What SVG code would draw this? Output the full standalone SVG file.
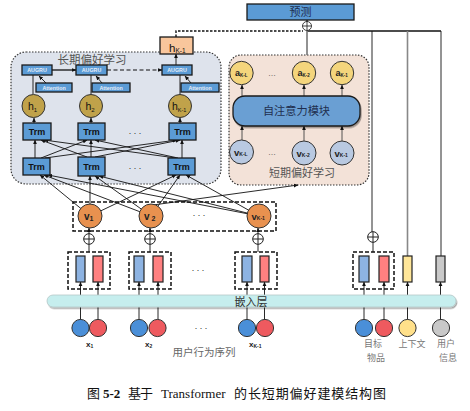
<svg xmlns="http://www.w3.org/2000/svg" width="470" height="411" viewBox="0 0 470 411">
<defs>
<marker id="ah" viewBox="0 0 6 6" refX="5.6" refY="3" markerWidth="4.5" markerHeight="4.5" markerUnits="userSpaceOnUse" orient="auto"><path d="M0,0.4 L6,3 L0,5.6 z" fill="#111"/></marker>
<filter id="sh" x="-10%" y="-20%" width="125%" height="160%"><feDropShadow dx="1" dy="1.5" stdDeviation="0.7" flood-color="#000" flood-opacity="0.35"/></filter>
<g id="op"><circle r="5.3" fill="#fff" stroke="#222" stroke-width="1"/><path d="M-5.3,0H5.3M0,-5.3V5.3" stroke="#222" stroke-width="1"/></g>
</defs>
<style>
.bx{fill:#5B9BD5;stroke:#1a1a1a;stroke-width:1.3}
.t{font-family:"Liberation Sans","Noto Sans CJK SC",sans-serif}
.cn{font-family:"Noto Sans CJK SC","Liberation Sans",sans-serif}
.trm{font-size:9px;font-weight:bold;fill:#111;text-anchor:middle}
.sm{font-size:5.3px;font-weight:bold;fill:#e8eef8;text-anchor:middle}
.ln{stroke:#111;stroke-width:0.9;fill:none}
.la{stroke:#111;stroke-width:0.9;fill:none;marker-end:url(#ah)}
.gold{fill:#C0A24A;stroke:#333;stroke-width:1}
.yel{fill:#F4D57C;stroke:#333;stroke-width:1}
.lv{fill:#B9C9E1;stroke:#333;stroke-width:1}
.org{fill:#E8914F;stroke:#333;stroke-width:1}
.dash{fill:none;stroke:#111;stroke-width:1.5;stroke-dasharray:4 2}
.bar{stroke:#222;stroke-width:1.2}
.dots{font-size:9px;fill:#333;text-anchor:middle;letter-spacing:2px}
.lbl{font-size:9px;fill:#777;text-anchor:middle}
.cap{font-size:13px;fill:#111}
</style>

<!-- panels -->
<g id="long-term-panel">
<rect x="11" y="52" width="210" height="132" rx="15" fill="#DEE3EC" stroke="#333" stroke-width="1.2" stroke-dasharray="1.5 1.5"/>
<text class="cn" x="92" y="64" font-size="11.5" fill="#555" text-anchor="middle">长期偏好学习</text>
</g>
<g id="short-term-panel">
<rect x="229" y="55" width="140" height="130" rx="12" fill="#F3E2D8" stroke="#333" stroke-width="1.2" stroke-dasharray="1.5 1.5"/>
<text class="cn" x="302" y="177" font-size="11" fill="#555" text-anchor="middle">短期偏好学习</text>
</g>

<!-- connectors -->
<g id="connectors">
<line class="la" x1="35" y1="158" x2="35" y2="140"/>
<line class="la" x1="41" y1="158" x2="87" y2="140"/>
<line class="la" x1="45" y1="158" x2="177" y2="140"/>
<line class="la" x1="87" y1="157" x2="41" y2="140"/>
<line class="la" x1="91" y1="157" x2="91" y2="140"/>
<line class="la" x1="95" y1="157" x2="180" y2="140"/>
<line class="la" x1="176" y1="158" x2="44" y2="140"/>
<line class="la" x1="178" y1="158" x2="95" y2="140"/>
<line class="la" x1="182" y1="158" x2="182" y2="140"/>
<line class="la" x1="90" y1="216" x2="40" y2="175"/>
<line class="la" x1="90" y1="216" x2="90" y2="176"/>
<line class="la" x1="90" y1="216" x2="176" y2="175"/>
<line class="la" x1="151" y1="216" x2="44" y2="175"/>
<line class="la" x1="151" y1="216" x2="95" y2="176"/>
<line class="la" x1="151" y1="216" x2="180" y2="175"/>
<line class="la" x1="259" y1="216" x2="48" y2="175"/>
<line class="la" x1="259" y1="216" x2="99" y2="176"/>
<line class="la" x1="259" y1="216" x2="186" y2="175"/>
<line class="la" x1="153" y1="205" x2="298" y2="185"/>
<line class="la" x1="34" y1="123" x2="34" y2="118"/>
<line class="la" x1="91" y1="123" x2="91" y2="118"/>
<line class="la" x1="180" y1="123" x2="180" y2="118"/>
<line class="ln" x1="33" y1="94" x2="33" y2="75"/>
<line class="ln" x1="91" y1="94" x2="91" y2="75"/>
<line class="ln" x1="180" y1="94" x2="180" y2="75"/>
<line class="la" x1="46" y1="83" x2="39" y2="76"/>
<line class="la" x1="102" y1="83" x2="96" y2="76"/>
<line class="la" x1="191" y1="83" x2="185" y2="76"/>
<line class="la" x1="52" y1="70" x2="76" y2="70" style="stroke-width:1.3"/>
<line class="la" x1="107" y1="70" x2="162" y2="70" style="stroke-dasharray:4 2.5;stroke-width:1.1"/>
<line class="la" x1="176" y1="65" x2="176" y2="54"/>
<path d="M176,37 V31 H303" fill="none" stroke="#111" stroke-width="1.4" stroke-dasharray="2.5 1.5"/>
<line x1="307" y1="31" x2="441" y2="31" stroke="#111" stroke-width="1.4"/>
<line class="la" x1="307" y1="21" x2="307" y2="20"/>
<line x1="307" y1="31" x2="307" y2="55" stroke="#777" stroke-width="1.6"/>
<line class="ln" x1="372" y1="31" x2="372" y2="232"/>
<line x1="407.5" y1="31" x2="407.5" y2="256" stroke="#888" stroke-width="1.6"/>
<line class="ln" x1="441" y1="31" x2="441" y2="256"/>
<line class="la" x1="242" y1="96" x2="242" y2="85" style="stroke:#444"/>
<line class="la" x1="304" y1="96" x2="304" y2="85" style="stroke:#444"/>
<line class="la" x1="342" y1="96" x2="342" y2="85" style="stroke:#444"/>
<line class="la" x1="242" y1="140" x2="242" y2="126" style="stroke:#444"/>
<line class="la" x1="304" y1="141" x2="304" y2="126" style="stroke:#444"/>
<line class="la" x1="342" y1="141" x2="342" y2="126" style="stroke:#444"/>
<line class="la" x1="89" y1="234" x2="89" y2="228"/>
<line class="la" x1="150" y1="234" x2="150" y2="228"/>
<line class="la" x1="258" y1="234" x2="258" y2="228"/>
<line class="ln" x1="89" y1="252" x2="89" y2="244"/>
<line class="ln" x1="150" y1="252" x2="150" y2="244"/>
<line class="ln" x1="258" y1="252" x2="258" y2="244"/>
<line class="ln" x1="373" y1="252" x2="373" y2="242"/>
<line class="la" x1="80.5" y1="320" x2="80.5" y2="282"/>
<line class="la" x1="98" y1="320" x2="98" y2="282"/>
<line class="la" x1="139" y1="320" x2="139" y2="282"/>
<line class="la" x1="158" y1="320" x2="158" y2="282"/>
<line class="la" x1="247" y1="320" x2="247" y2="282"/>
<line class="la" x1="264.5" y1="320" x2="264.5" y2="282"/>
<line class="la" x1="364" y1="320" x2="364" y2="282"/>
<line class="la" x1="384" y1="320" x2="384" y2="282"/>
<line class="la" x1="407.5" y1="320" x2="407.5" y2="282"/>
<line class="la" x1="440.5" y1="320" x2="440.5" y2="282"/>
</g>

<g id="predict">
<rect class="bx" x="247" y="4" width="107" height="16"/>
<text class="cn" x="300.5" y="16" font-size="11" fill="#1F2F4F" text-anchor="middle">预测</text>
</g>
<g id="oplus-predict"><use href="#op" transform="translate(307,26) scale(0.85)"/></g>

<g id="hK-out">
<rect x="160" y="37" width="33" height="17" fill="#F9C69C" stroke="#1a1a1a" stroke-width="1.3"/>
<text class="t" x="169" y="52" font-size="11.5" fill="#111">h<tspan font-size="6.5" dy="1">K-1</tspan></text>
</g>

<g id="augru1"><rect class="bx" x="22" y="65" width="30" height="10"/><text class="t sm" x="37" y="72">AUGRU</text></g>
<g id="augru2"><rect class="bx" x="76" y="65" width="31" height="10"/><text class="t sm" x="91.5" y="72">AUGRU</text></g>
<g id="augru3"><rect class="bx" x="162" y="65" width="30" height="10"/><text class="t sm" x="177" y="72">AUGRU</text></g>
<g id="att1"><rect class="bx" x="36" y="83" width="36" height="9"/><text class="t sm" x="54" y="89.8">Attention</text></g>
<g id="att2"><rect class="bx" x="92" y="83" width="38" height="9"/><text class="t sm" x="111" y="89.8">Attention</text></g>
<g id="att3"><rect class="bx" x="181" y="83" width="38" height="9"/><text class="t sm" x="200" y="89.8">Attention</text></g>
<g id="h1"><circle class="gold" cx="33.5" cy="106" r="11.5"/><text class="t" x="28" y="110" font-size="10.5" fill="#111">h<tspan font-size="6" dy="1.5">1</tspan></text></g>
<g id="h2"><circle class="gold" cx="91" cy="106" r="11.5"/><text class="t" x="85.5" y="110" font-size="10.5" fill="#111">h<tspan font-size="6" dy="1.5">2</tspan></text></g>
<g id="hK"><circle class="gold" cx="180" cy="106" r="11.5"/><text class="t" x="172" y="110" font-size="10.5" fill="#111">h<tspan font-size="5.5" dy="1.5">K-1</tspan></text></g>
<g id="trm-u1"><rect class="bx" x="23" y="123" width="28" height="17"/><text class="t trm" x="37" y="134.5">Trm</text></g>
<g id="trm-u2"><rect class="bx" x="78" y="123" width="27" height="17"/><text class="t trm" x="91.5" y="134.5">Trm</text></g>
<g id="trm-u3"><rect class="bx" x="169" y="123" width="27" height="17"/><text class="t trm" x="182.5" y="134.5">Trm</text></g>
<text class="t dots" x="136" y="136">···</text>
<g id="trm-l1"><rect class="bx" x="23" y="158" width="27" height="17"/><text class="t trm" x="36.5" y="169.5">Trm</text></g>
<g id="trm-l2"><rect class="bx" x="78" y="157" width="27" height="19"/><text class="t trm" x="91.5" y="169.5">Trm</text></g>
<g id="trm-l3"><rect class="bx" x="168" y="158" width="27" height="17"/><text class="t trm" x="181.5" y="169.5">Trm</text></g>
<text class="t dots" x="136" y="171">···</text>

<g id="a1"><circle class="yel" cx="241.5" cy="73" r="11.7"/><text class="t" x="235" y="76" font-size="9" font-weight="bold" fill="#222">a<tspan font-size="4.5" dy="1">K-L</tspan></text></g>
<g id="a2"><circle class="yel" cx="304" cy="73" r="11.7"/><text class="t" x="297.5" y="76" font-size="9" font-weight="bold" fill="#222">a<tspan font-size="4.5" dy="1">K-2</tspan></text></g>
<g id="a3"><circle class="yel" cx="342" cy="73" r="11.7"/><text class="t" x="335.5" y="76" font-size="9" font-weight="bold" fill="#222">a<tspan font-size="4.5" dy="1">K-1</tspan></text></g>
<text class="t" x="272" y="76" font-size="8" fill="#333" text-anchor="middle">…</text>
<g id="self-attention"><rect x="233" y="96" width="127" height="30" rx="12" fill="#6A9FD3" stroke="#1a1a1a" stroke-width="1.3" filter="url(#sh)"/><text class="cn" x="296.5" y="115" font-size="11.2" fill="#1F2F4F" text-anchor="middle">自注意力模块</text></g>
<g id="sv1"><circle class="lv" cx="241.5" cy="152" r="12"/><text class="t" x="234" y="155.5" font-size="9.5" font-weight="bold" fill="#222">v<tspan font-size="5" dy="0.5">K-L</tspan></text></g>
<g id="sv2"><circle class="lv" cx="304" cy="153" r="12"/><text class="t" x="296.5" y="156.5" font-size="9.5" font-weight="bold" fill="#222">v<tspan font-size="5" dy="0.5">K-2</tspan></text></g>
<g id="sv3"><circle class="lv" cx="342" cy="153" r="12"/><text class="t" x="334.5" y="156.5" font-size="9.5" font-weight="bold" fill="#222">v<tspan font-size="5" dy="0.5">K-1</tspan></text></g>
<text class="t" x="272" y="155" font-size="8" fill="#333" text-anchor="middle">…</text>

<g id="v-group"><rect class="dash" x="73" y="202" width="203" height="29"/></g>
<g id="v1"><circle class="org" cx="90" cy="216" r="12"/><text class="t" x="84" y="220" font-size="10" font-weight="bold" fill="#222">v<tspan font-size="7" dy="0.5">1</tspan></text></g>
<g id="v2"><circle class="org" cx="151" cy="216" r="12"/><text class="t" x="144" y="220" font-size="10" font-weight="bold" fill="#222">v<tspan font-size="7" dy="0.5"> 2</tspan></text></g>
<g id="vK"><circle class="org" cx="259" cy="216" r="12"/><text class="t" x="251.5" y="219.5" font-size="9.5" font-weight="bold" fill="#222">v<tspan font-size="5" dy="0.5">K-1</tspan></text></g>
<text class="t dots" x="200" y="218">···</text>

<g id="oplus1"><use href="#op" x="89" y="239"/></g>
<g id="oplus2"><use href="#op" x="150" y="239"/></g>
<g id="oplus3"><use href="#op" x="258" y="239"/></g>
<g id="oplus4"><use href="#op" x="373" y="237"/></g>

<g id="pair1"><rect class="dash" x="68" y="252" width="42" height="37"/><rect class="bar" x="76" y="256" width="9" height="26" fill="#8DB3E2"/><rect class="bar" x="93" y="256" width="10" height="26" fill="#FF8080"/></g>
<g id="pair2"><rect class="dash" x="129" y="252" width="42" height="37"/><rect class="bar" x="134" y="256" width="10" height="26" fill="#8DB3E2"/><rect class="bar" x="153" y="256" width="10" height="26" fill="#FF8080"/></g>
<text class="t dots" x="199" y="273">···</text>
<g id="pairK"><rect class="dash" x="235" y="252" width="42" height="37"/><rect class="bar" x="242" y="256" width="10" height="26" fill="#8DB3E2"/><rect class="bar" x="260" y="256" width="9" height="26" fill="#FF8080"/></g>
<g id="pairT"><rect class="dash" x="353" y="252" width="41" height="37"/><rect class="bar" x="359" y="256" width="10" height="26" fill="#8DB3E2"/><rect class="bar" x="379" y="256" width="10" height="26" fill="#FF8080"/></g>
<g id="ctx-bar"><rect class="bar" x="403" y="256" width="9" height="26" fill="#FFE699"/></g>
<g id="user-bar"><rect class="bar" x="436" y="256" width="9" height="26" fill="#C9C9C9"/></g>

<g id="embedding">
<rect x="47" y="295" width="409" height="12" rx="6" fill="#C6EEEE" stroke="#b5c8c8" stroke-width="0.8" filter="url(#sh)"/>
<text class="cn" x="251" y="306" font-size="11" fill="#333" text-anchor="middle">嵌入层</text>
</g>

<g id="x1"><circle cx="80.5" cy="328" r="8.6" fill="#4A8FD8" stroke="#333"/><circle cx="98" cy="328" r="8.6" fill="#EE5A5F" stroke="#333"/><text class="t" x="86" y="347" font-size="8" font-weight="bold" fill="#222">x<tspan font-size="5" dy="1">1</tspan></text></g>
<g id="x2"><circle cx="139" cy="328" r="8.6" fill="#4A8FD8" stroke="#333"/><circle cx="157.5" cy="328" r="8.6" fill="#EE5A5F" stroke="#333"/><text class="t" x="145" y="347" font-size="8" font-weight="bold" fill="#222">x<tspan font-size="5" dy="1">2</tspan></text></g>
<text class="t dots" x="202" y="331">···</text>
<g id="xK"><circle cx="247" cy="328" r="8.6" fill="#4A8FD8" stroke="#333"/><circle cx="265" cy="328" r="8.6" fill="#EE5A5F" stroke="#333"/><text class="t" x="249" y="347" font-size="8" font-weight="bold" fill="#222">x<tspan font-size="5" dy="1">K-1</tspan></text></g>
<text class="cn" x="204" y="356" font-size="10.5" fill="#666" text-anchor="middle">用户行为序列</text>
<g id="target"><circle cx="364" cy="328" r="8.6" fill="#4A8FD8" stroke="#333"/><circle cx="384" cy="328" r="8.6" fill="#EE5A5F" stroke="#333"/><text class="cn lbl" x="373" y="347">目标</text><text class="cn lbl" x="376" y="361">物品</text></g>
<g id="context"><circle cx="407.5" cy="328" r="8.6" fill="#FFE08A" stroke="#333"/><text class="cn lbl" x="412" y="347">上下文</text></g>
<g id="user"><circle cx="441" cy="328" r="8.6" fill="#C8C8C8" stroke="#333"/><text class="cn lbl" x="446" y="347">用户</text><text class="cn lbl" x="448" y="361">信息</text></g>

<g id="caption" font-family="'Liberation Serif','Noto Sans CJK SC',serif">
<text class="cap" x="87" y="398">图</text>
<text class="cap" x="103" y="398" font-weight="bold">5-2</text>
<text class="cap" x="128" y="398" textLength="25" lengthAdjust="spacing">基于</text>
<text class="cap" x="161" y="398">Transformer</text>
<text class="cap" x="234" y="398" textLength="152" lengthAdjust="spacing">的长短期偏好建模结构图</text>
</g>
</svg>
